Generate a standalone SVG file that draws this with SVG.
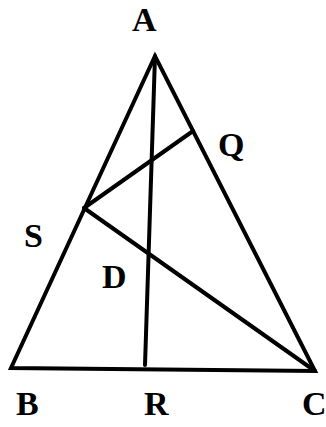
<svg xmlns="http://www.w3.org/2000/svg" width="326" height="427" viewBox="0 0 326 427">
<style>
.l{stroke:#000;stroke-width:4;fill:none;stroke-linecap:round;stroke-linejoin:miter}
.t{font-family:"Liberation Serif","Times New Roman",serif;font-weight:bold;font-size:34px;fill:#000}
</style>
<rect width="326" height="427" fill="#fff"/>
<g id="connectors">
<polygon class="l" points="155,56 11,368 315,371"/>
<line class="l" x1="155" y1="56" x2="145" y2="365"/>
<line class="l" x1="84" y1="208" x2="193" y2="131"/>
<line class="l" x1="84" y1="208" x2="315" y2="371"/>
</g>
<g id="A"><text class="t" x="132" y="31">A</text></g>
<g id="Q"><text class="t" x="218" y="156">Q</text></g>
<g id="S"><text class="t" x="24" y="247">S</text></g>
<g id="D"><text class="t" x="102" y="288">D</text></g>
<g id="B"><text class="t" x="16" y="415">B</text></g>
<g id="R"><text class="t" x="144" y="415">R</text></g>
<g id="C"><text class="t" x="302" y="415">C</text></g>
</svg>
